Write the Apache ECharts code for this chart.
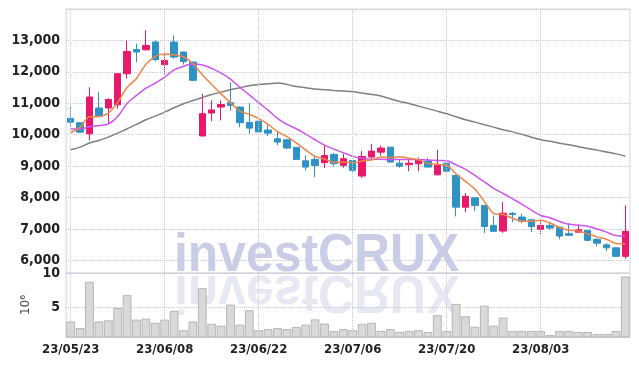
<!DOCTYPE html>
<html><head><meta charset="utf-8">
<script src="https://cdn.jsdelivr.net/npm/echarts@6/dist/echarts.min.js"></script>
<style>html,body{margin:0;padding:0;background:#fff}#c{width:639px;height:366px}</style>
</head><body><div id="c"></div>
<script>
const dates = ['23/05/23','23/05/24','23/05/25','23/05/26','23/05/30','23/05/31','23/06/01','23/06/02','23/06/05','23/06/07',
'23/06/08','23/06/09','23/06/12','23/06/13','23/06/14','23/06/15','23/06/16','23/06/19','23/06/20','23/06/21',
'23/06/22','23/06/23','23/06/26','23/06/27','23/06/28','23/06/29','23/06/30','23/07/03','23/07/04','23/07/05',
'23/07/06','23/07/07','23/07/10','23/07/11','23/07/12','23/07/13','23/07/14','23/07/17','23/07/18','23/07/19',
'23/07/20','23/07/21','23/07/24','23/07/25','23/07/26','23/07/27','23/07/28','23/07/31','23/08/01','23/08/02',
'23/08/03','23/08/04','23/08/07','23/08/08','23/08/09','23/08/10','23/08/11','23/08/14','23/08/16','23/08/17'];
const openP = [10520,10380,10030,10850,10850,10950,11940,12710,12700,12950,12230,12950,12630,12310,9960,10690,10880,11020,10880,10390,
10430,10150,9870,9840,9600,9170,9215,9110,9370,9025,9180,8685,9290,9445,9605,9095,9045,9075,9160,8725,
9095,8705,7695,7995,7750,7115,6935,7500,7380,7295,6990,7115,7060,6850,6900,6955,6670,6495,6400,6130];
const closeP = [10400,10080,11200,10590,11120,11940,12650,12630,12840,12390,12360,12470,12330,11730,10670,10790,10960,10930,10380,10210,
10090,10050,9765,9575,9215,8970,9020,9340,9080,9235,8865,9310,9480,9575,9130,9000,9095,9205,8970,9025,
8840,7695,8040,7750,7080,6925,7505,7460,7250,7080,7115,7030,6775,6800,6975,6640,6550,6400,6130,6925];
const lowP = [10240,10050,9820,10560,10350,10830,11780,12310,12680,12330,11910,12420,12230,11700,9950,10430,10455,10770,10240,10030,
10060,9955,9660,9550,9210,8865,8650,8940,8990,8950,8810,8630,9235,9340,9120,8950,8840,8840,8965,8705,
8810,7400,7535,7570,6870,6920,6880,7220,7185,6900,6820,6985,6670,6795,6900,6615,6445,6300,6120,6055];
const highP = [10900,10390,11510,11360,11160,11950,13000,12900,13320,13000,12580,13160,12650,12330,11300,11090,11090,11670,10900,10990,
10440,10330,10100,9850,9600,9340,9340,9680,9415,9395,9190,9480,9710,9660,9610,9235,9205,9270,9270,9520,
9130,8720,8140,8000,7760,7430,7855,7540,7485,7300,7270,7220,7070,7190,7165,6960,6710,6550,6410,7750];
const ma5 = [10063,10240,10570,10580,10690,11030,11500,11790,12240,12490,12570,12540,12480,12260,11910,11600,11300,11020,10750,10650,
10510,10330,10100,9940,9740,9515,9310,9225,9125,9130,9110,9165,9195,9290,9270,9300,9255,9200,9080,9060,
9030,8750,8515,8270,7880,7500,7460,7345,7245,7245,7280,7190,7050,6960,6940,6845,6750,6675,6540,6530];
const ma10 = [10180,10180,10250,10290,10340,10580,11000,11250,11480,11640,11830,12060,12180,12250,12220,12110,11960,11770,11510,11270,
11020,10780,10520,10330,10190,10020,9840,9670,9540,9430,9310,9250,9220,9220,9210,9210,9215,9205,9195,9180,
9170,9040,8900,8710,8500,8290,8130,7960,7790,7600,7430,7360,7240,7150,7120,7090,7000,6900,6790,6770];
const maLong = [9521,9606,9734,9818,9924,10051,10190,10327,10476,10591,10718,10858,10985,11091,11186,11277,11356,11431,11495,11558,
11600,11622,11643,11600,11536,11495,11451,11431,11409,11388,11367,11325,11282,11229,11145,11059,10990,10910,10830,10750,
10667,10570,10476,10400,10320,10242,10160,10090,10010,9920,9840,9790,9730,9680,9620,9560,9510,9450,9390,9320];
const volume = [2.87,1.90,8.70,2.87,3.03,4.84,6.74,3.14,3.29,2.67,3.14,4.42,1.59,2.87,7.77,2.52,2.26,5.35,2.41,4.53,
1.59,1.75,1.90,1.75,2.06,2.41,3.18,2.57,1.48,1.75,1.59,2.52,2.67,1.48,1.75,1.33,1.48,1.59,1.33,3.80,
1.48,5.45,3.65,2.10,5.19,2.26,3.45,1.48,1.48,1.48,1.48,0.87,1.48,1.48,1.33,1.33,1.02,1.02,1.48,9.47];
const labelDates = ['23/05/23','23/06/08','23/06/22','23/07/06','23/07/20','23/08/03'];
const volumeUnit = '10⁶';
const watermark = 'investCRUX';

const candles = dates.map((d, i) => [openP[i], closeP[i], lowP[i], highP[i]]);
const FONT = '"Liberation Sans Narrow", "DejaVu Sans Condensed", sans-serif';
const GRIDC = '#c3c8da';
const vLines = {
  silent: true, symbol: ['none', 'none'], animation: false,
  label: { show: false },
  lineStyle: { type: 'dotted', color: GRIDC, width: 1 },
  emphasis: { disabled: true },
  data: labelDates.map(d => ({ xAxis: d }))
};
const chart = echarts.init(document.getElementById('c'), null, { renderer: 'canvas' });
chart.setOption({
  animation: false,
  backgroundColor: '#fff',
  graphic: [
    { type: 'text', x: 174, y: 0, scaleX: 0.94, z: -10, silent: true,
      style: { text: watermark, x: 0, y: 256, verticalAlign: 'middle', font: 'bold 53px "Liberation Sans", Arial, sans-serif', fill: '#c9cee6' } },
    { type: 'text', x: 174, y: 547, scaleX: 0.94, scaleY: -1, z: -10, silent: true,
      style: { text: watermark, x: 0, y: 256, verticalAlign: 'middle', font: 'bold 53px "Liberation Sans", Arial, sans-serif', fill: '#e6e8f2' } }
  ],
  grid: [
    { left: 66, right: 9, top: 9, height: 264, show: true, borderColor: '#d4d6de', borderWidth: 1 },
    { left: 66, right: 9, top: 273, height: 64, show: true, borderColor: '#d4d6de', borderWidth: 1 }
  ],
  xAxis: [
    { type: 'category', gridIndex: 0, data: dates, boundaryGap: true,
      axisLine: { show: false }, axisTick: { show: false }, axisLabel: { show: false }, splitLine: { show: false } },
    { type: 'category', gridIndex: 1, data: dates, boundaryGap: true,
      axisLine: { show: false }, axisTick: { show: false }, splitLine: { show: false },
      axisLabel: { interval: 9, color: '#222', fontSize: 13, fontWeight: 'bold', fontFamily: FONT, margin: 6 } }
  ],
  yAxis: [
    { type: 'value', gridIndex: 0, min: 5600, max: 14000, splitNumber: 8,
      axisLine: { show: false }, axisTick: { show: false },
      axisLabel: { showMinLabel: false, showMaxLabel: false, color: '#222', fontSize: 14, fontWeight: 'bold', fontFamily: FONT, margin: 6,
        padding: [7, 0, 0, 0],
        formatter: v => (v % 1000 === 0 ? v.toLocaleString('en-US') : '') },
      splitLine: { lineStyle: { type: 'dotted', color: GRIDC } } },
    { type: 'value', gridIndex: 1, min: 0.6, max: 10, splitNumber: 2,
      name: volumeUnit, nameLocation: 'middle', nameRotate: 90, nameGap: 22,
      nameTextStyle: { color: '#444', fontSize: 12, fontFamily: '"DejaVu Sans", sans-serif' },
      axisLine: { show: false }, axisTick: { show: false },
      axisLabel: { showMinLabel: false, showMaxLabel: true, color: '#222', fontSize: 14, fontWeight: 'bold', fontFamily: FONT, margin: 6,
        padding: [7, 0, 0, 0],
        formatter: v => (v % 5 === 0 ? String(v) : '') },
      splitLine: { lineStyle: { type: 'dotted', color: GRIDC } } }
  ],
  series: [
    { type: 'candlestick', xAxisIndex: 0, yAxisIndex: 0, data: candles, barWidth: 7,
      itemStyle: { color: '#e8186a', color0: '#2f92c4', borderColor: '#e8186a', borderColor0: '#2f92c4', borderWidth: 1 },
      markLine: vLines, z: 3 },
    { type: 'line', xAxisIndex: 0, yAxisIndex: 0, data: maLong, showSymbol: false, smooth: 0.3,
      lineStyle: { color: '#7f7f7f', width: 1.5 }, z: 4 },
    { type: 'line', xAxisIndex: 0, yAxisIndex: 0, data: ma10, showSymbol: false, smooth: 0.3,
      lineStyle: { color: '#cc55ee', width: 1.5 }, z: 4 },
    { type: 'line', xAxisIndex: 0, yAxisIndex: 0, data: ma5, showSymbol: false, smooth: 0.3,
      lineStyle: { color: '#ee8548', width: 1.5 }, z: 4 },
    { type: 'bar', xAxisIndex: 1, yAxisIndex: 1, data: volume, barWidth: '92%',
      itemStyle: { color: '#d9d9d9', borderColor: '#aaaaaa', borderWidth: 0.8 },
      markLine: vLines, z: 3 }
  ]
});
</script></body></html>
